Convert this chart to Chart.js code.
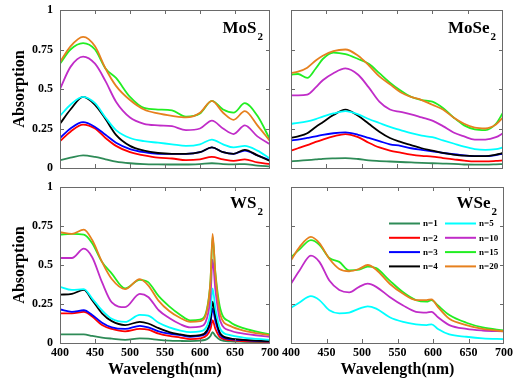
<!DOCTYPE html>
<html><head><meta charset="utf-8">
<script src="https://cdn.jsdelivr.net/npm/chart.js@4.4.0/dist/chart.umd.min.js"></script>
<style>
html,body{margin:0;padding:0;background:#fff;}
#wrap{position:relative;width:514px;height:381px;overflow:hidden;background:#fff;}
canvas{position:absolute;}
</style></head><body>
<div id="wrap">
<canvas id="c1" width="280" height="178" style="left:0;top:0"></canvas>
<canvas id="c2" width="234" height="178" style="left:280px;top:0"></canvas>
<canvas id="c3" width="280" height="203" style="left:0;top:178px"></canvas>
<canvas id="c4" width="234" height="203" style="left:280px;top:178px"></canvas>
</div>
<script>
// ---------- data ----------
const seriesLabels = ['n=1','n=2','n=3','n=4','n=5','n=10','n=15','n=20'];
const xTickLabels = ['400','450','500','550','600','650','700'];
const yTickLabels = ['0','0.25','0.5','0.75','1'];

const mos2Wavelengths = [400,415,433,450,465,480,500,520,540,560,580,600,617,633,648,664,682,700];
const mos2N1  = [0.05,0.065,0.08,0.07,0.055,0.04,0.03,0.025,0.023,0.022,0.022,0.025,0.03,0.025,0.023,0.025,0.015,0.01];
const mos2N2  = [0.17,0.23,0.275,0.25,0.19,0.14,0.10,0.08,0.065,0.06,0.05,0.055,0.07,0.055,0.045,0.055,0.035,0.025];
const mos2N3  = [0.19,0.25,0.29,0.26,0.21,0.16,0.12,0.10,0.09,0.09,0.09,0.10,0.13,0.10,0.09,0.11,0.08,0.05];
const mos2N4  = [0.28,0.37,0.45,0.40,0.31,0.21,0.14,0.11,0.095,0.09,0.09,0.10,0.13,0.10,0.09,0.115,0.08,0.045];
const mos2N5  = [0.33,0.40,0.45,0.41,0.32,0.24,0.19,0.17,0.16,0.15,0.14,0.15,0.18,0.15,0.13,0.14,0.11,0.06];
const mos2N10 = [0.50,0.64,0.705,0.66,0.55,0.42,0.32,0.28,0.27,0.265,0.24,0.25,0.30,0.25,0.215,0.27,0.20,0.15];
const mos2N15 = [0.66,0.75,0.79,0.75,0.63,0.57,0.45,0.38,0.37,0.365,0.325,0.345,0.425,0.37,0.35,0.41,0.33,0.18];
const mos2N20 = [0.67,0.77,0.83,0.77,0.63,0.52,0.43,0.37,0.345,0.33,0.32,0.35,0.425,0.35,0.305,0.36,0.27,0.17];

const mose2Wavelengths = [400,410,423,435,445,460,477,495,510,525,540,555,570,585,600,615,630,645,660,675,690,700];
const mose2N1  = [.042,.045,.05,.054,.058,.061,.063,.057,.048,.044,.041,.038,.035,.032,.03,.028,.026,.022,.021,.021,.023,.025];
const mose2N2  = [.11,.125,.145,.165,.18,.20,.215,.195,.16,.13,.11,.097,.085,.077,.072,.063,.055,.047,.042,.042,.045,.048];
const mose2N3  = [.175,.18,.19,.20,.21,.22,.225,.21,.19,.17,.15,.14,.125,.115,.105,.095,.087,.08,.075,.075,.082,.09];
const mose2N4  = [.19,.20,.22,.26,.29,.335,.37,.33,.28,.23,.19,.165,.145,.125,.11,.095,.085,.078,.075,.075,.085,.095];
const mose2N5  = [.28,.285,.295,.31,.325,.345,.36,.34,.31,.285,.26,.24,.22,.205,.195,.175,.155,.135,.12,.115,.12,.13];
const mose2N10 = [.46,.46,.465,.51,.555,.60,.63,.59,.51,.42,.37,.355,.34,.32,.30,.265,.225,.20,.18,.18,.195,.22];
const mose2N15 = [.59,.595,.57,.63,.69,.73,.72,.69,.66,.60,.54,.49,.45,.43,.42,.38,.32,.27,.245,.24,.28,.35];
const mose2N20 = [.60,.61,.635,.68,.71,.74,.75,.71,.65,.58,.53,.48,.45,.43,.40,.37,.32,.28,.255,.25,.275,.32];

const ws2Wavelengths = [400,417,434,446,460,474,493,514,526,541,556,572,586,600,610,615,618,622,629,643,662,700];
const ws2N1  = [.055,.055,.055,.045,.035,.028,.02,.03,.028,.02,.015,.013,.012,.015,.025,.045,.07,.045,.02,.01,.008,.005];
const ws2N2  = [.19,.19,.20,.17,.115,.09,.075,.09,.085,.06,.045,.035,.025,.03,.05,.09,.145,.09,.035,.018,.012,.008];
const ws2N3  = [.215,.20,.21,.18,.13,.10,.09,.11,.10,.075,.06,.05,.04,.045,.07,.13,.22,.14,.05,.025,.018,.01];
const ws2N4  = [.31,.315,.34,.275,.19,.14,.115,.135,.125,.095,.07,.055,.045,.05,.08,.15,.265,.17,.06,.03,.02,.012];
const ws2N5  = [.36,.34,.345,.285,.21,.155,.135,.18,.175,.13,.10,.08,.07,.075,.11,.20,.35,.22,.09,.05,.035,.02];
const ws2N10 = [.545,.545,.605,.55,.39,.26,.23,.315,.295,.21,.16,.12,.10,.105,.16,.30,.535,.34,.14,.08,.06,.04];
const ws2N15 = [.695,.70,.695,.64,.52,.445,.35,.405,.39,.30,.235,.18,.145,.15,.22,.40,.68,.45,.22,.135,.095,.055];
const ws2N20 = [.71,.70,.727,.66,.52,.41,.345,.41,.37,.27,.205,.16,.135,.14,.21,.40,.70,.44,.18,.11,.08,.05];

const wse2Wavelengths = [400,412,428,440,454,468,482,496,508,520,539,558,576,591,598,607,623,647,670,700];
const wse2N5  = [.225,.26,.30,.275,.21,.19,.195,.22,.235,.22,.165,.135,.12,.115,.12,.09,.055,.04,.03,.025];
const wse2N10 = [.38,.465,.56,.52,.40,.34,.325,.36,.38,.36,.295,.24,.20,.195,.20,.165,.115,.09,.08,.075];
const wse2N15 = [.55,.60,.66,.63,.545,.52,.465,.47,.49,.48,.40,.325,.275,.265,.275,.24,.18,.13,.10,.08];
const wse2N20 = [.53,.615,.68,.64,.54,.475,.46,.475,.50,.47,.38,.315,.275,.275,.28,.23,.155,.115,.09,.075];

// ---------- styles ----------
const seriesColors = ['#2e8b57','#ff0000','#0000ff','#000000','#00ffff','#c02cc8','#22ee22','#e6801e'];
const FONT = '"Liberation Serif", "Times New Roman", serif';

const decoPlugin = {
  id: 'panelDeco',
  afterDraw(chart, args, opts) {
    const ctx = chart.ctx;
    const {left, right, top, bottom} = chart.chartArea;
    ctx.save();
    // frame
    ctx.strokeStyle = '#6a6a6a';
    ctx.lineWidth = 1;
    ctx.strokeRect(Math.round(left) + 0.5, Math.round(top) + 0.5, Math.round(right - left) - 1, Math.round(bottom - top));
    // inward ticks
    const L = 4;
    ctx.beginPath();
    chart.scales.x.ticks.forEach(t => {
      if (t.value <= 400 || t.value >= 700) return;
      const px = Math.round(chart.scales.x.getPixelForValue(t.value)) + 0.5;
      ctx.moveTo(px, bottom); ctx.lineTo(px, bottom - L);
      ctx.moveTo(px, top); ctx.lineTo(px, top + L);
    });
    chart.scales.y.ticks.forEach(t => {
      if (t.value <= 0 || t.value >= 1) return;
      const py = Math.round(chart.scales.y.getPixelForValue(t.value)) + 0.5;
      ctx.moveTo(left, py); ctx.lineTo(left + L, py);
      ctx.moveTo(right, py); ctx.lineTo(right - L, py);
    });
    ctx.stroke();
    // panel title with subscript
    ctx.fillStyle = '#000';
    ctx.textBaseline = 'alphabetic';
    ctx.textAlign = 'left';
    ctx.font = 'bold 17px ' + FONT;
    const w1 = ctx.measureText(opts.main).width;
    ctx.font = 'bold 11px ' + FONT;
    const w2 = ctx.measureText(opts.sub).width;
    const x0 = right - 7 - w2 - 1 - w1;
    ctx.font = 'bold 17px ' + FONT;
    ctx.fillText(opts.main, x0, top + opts.dy);
    ctx.font = 'bold 11px ' + FONT;
    ctx.fillText(opts.sub, x0 + w1 + 1, top + opts.dy + 7);
    // legend
    if (opts.legend) {
      ctx.font = 'bold 9px ' + FONT;
      ctx.textBaseline = 'middle';
      ctx.lineWidth = 2;
      seriesLabels.forEach((lab, i) => {
        const col = i < 4 ? 0 : 1;
        const row = i % 4;
        const lx = left + (col === 0 ? 98 : 154);
        const ly = top + 36.5 + row * 14.3;
        ctx.strokeStyle = seriesColors[i];
        ctx.beginPath();
        ctx.moveTo(lx, ly); ctx.lineTo(lx + 31, ly);
        ctx.stroke();
        ctx.fillStyle = '#000';
        ctx.fillText(lab, lx + 34, ly + 0.5);
      });
    }
    ctx.restore();
  }
};

function makePanel(canvasId, wl, seriesList, opt) {
  const datasets = [];
  seriesList.forEach((vals, i) => {
    if (!vals) return;
    datasets.push({
      label: seriesLabels[i],
      data: wl.map((x, k) => ({x: x, y: vals[k]})),
      borderColor: seriesColors[i],
      backgroundColor: seriesColors[i],
      borderWidth: 1.8,
      pointRadius: 0,
      cubicInterpolationMode: 'monotone',
      fill: false
    });
  });
  datasets.reverse();
  const canvas = document.getElementById(canvasId);
  return new Chart(canvas, {
    type: 'line',
    data: {datasets},
    plugins: [decoPlugin],
    options: {
      responsive: false,
      maintainAspectRatio: false,
      devicePixelRatio: 1,
      animation: false,
      events: [],
      layout: {autoPadding: false, padding: {left: 0, right: opt.padRight, top: opt.padTop, bottom: 0}},
      plugins: {
        legend: {display: false},
        tooltip: {enabled: false},
        panelDeco: {main: opt.main, sub: opt.sub, dy: opt.titleDy, legend: !!opt.legend}
      },
      scales: {
        x: {
          type: 'linear', min: 400, max: 700,
          grid: {display: false, drawTicks: false},
          border: {display: false},
          ticks: {
            display: opt.showX, stepSize: 50, autoSkip: false, maxRotation: 0, padding: 3,
            color: '#000', font: {family: FONT, size: 12, weight: 'bold'},
            callback: (v, idx) => xTickLabels[idx]
          },
          title: {
            display: opt.showX, text: 'Wavelength(nm)', color: '#000',
            font: {family: FONT, size: 16, weight: 'bold'}, padding: {top: 0, bottom: 2}
          },
          afterFit: s => { s.height = opt.xHeight; s.paddingLeft = 0; s.paddingRight = 0; }
        },
        y: {
          type: 'linear', min: 0, max: 1,
          grid: {display: false, drawTicks: false},
          border: {display: false},
          ticks: {
            display: opt.showY, stepSize: 0.25, padding: 7,
            color: '#000', font: {family: FONT, size: 12, weight: 'bold'},
            callback: (v, idx) => yTickLabels[idx]
          },
          title: {
            display: opt.showY, text: 'Absorption', color: '#000',
            font: {family: FONT, size: 16, weight: 'bold'}, padding: {top: 10, bottom: 0}
          },
          afterFit: s => { s.width = opt.yWidth; s.paddingTop = 0; s.paddingBottom = 0; }
        }
      }
    }
  });
}

makePanel('c1', mos2Wavelengths,
  [mos2N1, mos2N2, mos2N3, mos2N4, mos2N5, mos2N10, mos2N15, mos2N20],
  {showX: false, showY: true, xHeight: 10, yWidth: 60, padRight: 10, padTop: 10, main: 'MoS', sub: '2', titleDy: 23});
makePanel('c2', mose2Wavelengths,
  [mose2N1, mose2N2, mose2N3, mose2N4, mose2N5, mose2N10, mose2N15, mose2N20],
  {showX: false, showY: false, xHeight: 10, yWidth: 11, padRight: 11, padTop: 10, main: 'MoSe', sub: '2', titleDy: 23});
makePanel('c3', ws2Wavelengths,
  [ws2N1, ws2N2, ws2N3, ws2N4, ws2N5, ws2N10, ws2N15, ws2N20],
  {showX: true, showY: true, xHeight: 38, yWidth: 60, padRight: 10, padTop: 9, main: 'WS', sub: '2', titleDy: 21});
makePanel('c4', wse2Wavelengths,
  [null, null, null, null, wse2N5, wse2N10, wse2N15, wse2N20],
  {showX: true, showY: false, xHeight: 38, yWidth: 11, padRight: 10, padTop: 9, main: 'WSe', sub: '2', titleDy: 21, legend: true});
</script>
</body></html>
